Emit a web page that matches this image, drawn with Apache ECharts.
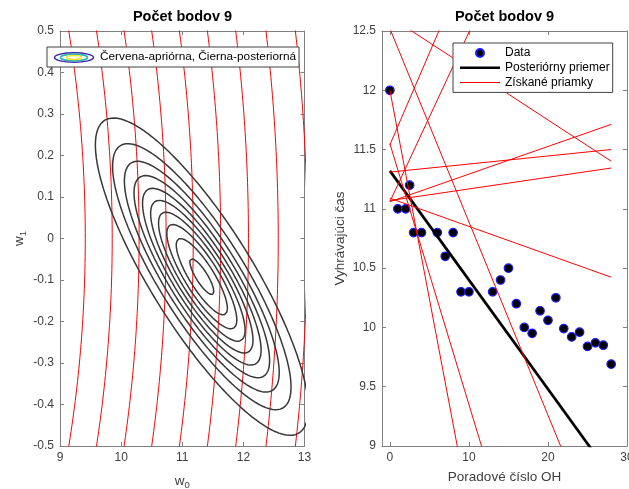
<!DOCTYPE html>
<html>
<head>
<meta charset="utf-8">
<script src="https://cdn.jsdelivr.net/npm/echarts/dist/echarts.min.js"></script>
<style>
  html, body { margin: 0; padding: 0; background: #fff; }
  #main { width: 629px; height: 489px; }
</style>
</head>
<body>
<div id="main"></div>
<script>
// poradove cislo OH a vyhravajuci cas (100 m)
var gameNo = [0, 1, 2, 2.5, 3, 4, 6, 7, 8, 9, 10, 13, 14, 15, 16, 17, 18, 19, 20, 21, 22, 23, 24, 25, 26, 27, 28];
var winTime = [12.0, 11.0, 11.0, 11.2, 10.8, 10.8, 10.8, 10.6, 10.8, 10.3, 10.3, 10.3, 10.4, 10.5, 10.2,
               10.0, 9.95, 10.14, 10.06, 10.25, 9.99, 9.92, 9.96, 9.84, 9.87, 9.85, 9.69];

// apriorne rozdelenie N(mean, diag(var)) a hladiny vrstevnic
var priorMean = [0, 0];
var priorVar = [100, 5];
var priorLevels = [0.00457, 0.00438, 0.00419, 0.00400, 0.00381, 0.00362, 0.00343, 0.00323, 0.00304];

// posteriorne rozdelenie, hladiny ako podiel maxima
var postMean = [11.32, -0.092];
var postSd = [0.806, 0.177];
var postRho = -0.83;
var postLevels = [0.097, 0.194, 0.291, 0.388, 0.485, 0.583, 0.680, 0.777, 0.874, 0.971];

// ziskane priamky t = w0 + w1 * x
var sampleW0 = [12.52, 12.62, 11.54, 11.06, 12.00, 11.55, 11.31, 11.06, 11.07, 11.09];
var sampleW1 = [-0.163, -0.0435, 0.155, 0.143, -0.352, -0.22, 0.0068, 0.0233, 0.0098, -0.0238];
var lineRange = [0, 28];

var titleText = 'Počet bodov 9';
var leftLegendName = 'Červena-apriórna, Čierna-posteriorná';

var FONT = '"Liberation Sans", Arial, Helvetica, sans-serif';
var AXIS_COLOR = '#808080';
var TEXT_COLOR = '#404040';

// legend icons: a horizontal bar inside a 40x8 box
var thickBarIcon = 'path://M0,0L0,0ZM0,2.7H40V5.3H0ZM40,8L40,8Z';
var thinBarIcon = 'path://M0,0L0,0ZM0,3.5H40V4.5H0ZM40,8L40,8Z';

function priorContour(level) {
    var peak = 1 / (2 * Math.PI * Math.sqrt(priorVar[0] * priorVar[1]));
    var q = -2 * Math.log(level / peak);
    var pts = [];
    for (var i = 0; i <= 80; i++) {
        var w1 = -0.6 + 1.2 * i / 80;
        var r = q - Math.pow(w1 - priorMean[1], 2) / priorVar[1];
        pts.push([priorMean[0] + Math.sqrt(priorVar[0] * r), w1]);
    }
    return pts;
}

function posteriorContour(f) {
    var d = Math.sqrt(-2 * Math.log(f));
    var s = Math.sqrt(1 - postRho * postRho);
    var pts = [];
    for (var i = 0; i <= 240; i++) {
        var t = 2 * Math.PI * i / 240;
        pts.push([postMean[0] + d * postSd[0] * Math.cos(t),
                  postMean[1] + d * postSd[1] * (postRho * Math.cos(t) + s * Math.sin(t))]);
    }
    return pts;
}

function textLeft(text, font, cx) {
    var ctx = document.createElement('canvas').getContext('2d');
    ctx.font = font;
    return cx - ctx.measureText(text).width / 2;
}

function axis(extra) {
    var a = {
        type: 'value',
        splitLine: { show: false },
        axisLine: { show: true, onZero: false, lineStyle: { color: AXIS_COLOR, width: 1 } },
        axisTick: { show: true, inside: true, length: 4, lineStyle: { color: AXIS_COLOR } },
        axisLabel: { color: TEXT_COLOR, fontSize: 12, fontFamily: FONT, margin: 6 },
        nameTextStyle: { color: TEXT_COLOR, fontSize: 13.5, fontFamily: FONT }
    };
    for (var k in extra) a[k] = extra[k];
    return a;
}

var series = [];

priorLevels.forEach(function (lv) {
    series.push({
        type: 'line', xAxisIndex: 0, yAxisIndex: 0, data: priorContour(lv),
        symbol: 'none', silent: true, clip: true,
        lineStyle: { color: '#ff0000', width: 1 }
    });
});
postLevels.forEach(function (f) {
    series.push({
        type: 'line', xAxisIndex: 0, yAxisIndex: 0, data: posteriorContour(f),
        symbol: 'none', silent: true, clip: true,
        lineStyle: { color: '#383838', width: 1.5 }
    });
});
series.push({
    name: leftLegendName, type: 'line', xAxisIndex: 0, yAxisIndex: 0, data: [],
    symbol: 'none', lineStyle: { color: 'rgba(0,0,0,0)' }, itemStyle: { color: 'rgba(0,0,0,0)' }
});

series.push({
    name: 'Data', type: 'scatter', xAxisIndex: 2, yAxisIndex: 2,
    data: gameNo.map(function (x, i) { return [x, winTime[i]]; }),
    symbol: 'circle', symbolSize: 8.5,
    itemStyle: { color: '#000', borderColor: '#1a1aff', borderWidth: 1.2, opacity: 1 }
});
series.push({
    name: 'Posteriórny priemer', type: 'line', xAxisIndex: 2, yAxisIndex: 2,
    data: lineRange.map(function (x) { return [x, postMean[0] + postMean[1] * x]; }),
    symbol: 'none', clip: true,
    itemStyle: { color: '#000' },
    lineStyle: { color: '#000', width: 2.7 }
});
sampleW0.forEach(function (w0, i) {
    series.push({
        name: 'Získané priamky', type: 'line', xAxisIndex: 2, yAxisIndex: 2,
        data: lineRange.map(function (x) { return [x, w0 + sampleW1[i] * x]; }),
        symbol: 'none', clip: true,
        itemStyle: { color: '#ff0000' },
        lineStyle: { color: '#ff0000', width: 1 }
    });
});

var titleFont = 'bold 14.5px ' + FONT;

var option = {
    animation: false,
    textStyle: { fontFamily: FONT },
    title: [
        { text: titleText, left: textLeft(titleText, titleFont, 182.5), top: 9, padding: 0,
          textStyle: { fontSize: 14.5, fontWeight: 'bold', color: '#000', fontFamily: FONT } },
        { text: titleText, left: textLeft(titleText, titleFont, 504.5), top: 9, padding: 0,
          textStyle: { fontSize: 14.5, fontWeight: 'bold', color: '#000', fontFamily: FONT } }
    ],
    grid: [
        { left: 60, top: 31, width: 244.5, height: 415, outerBoundsMode: 'none', containLabel: false },
        { left: 382, top: 31, width: 245, height: 415, outerBoundsMode: 'none', containLabel: false }
    ],
    xAxis: [
        axis({ gridIndex: 0, position: 'bottom', min: 9, max: 13, interval: 1,
               name: '{a|w}{b|0}', nameLocation: 'middle', nameGap: 26,
               nameTextStyle: { rich: {
                   a: { fontSize: 13.5, color: TEXT_COLOR, fontFamily: FONT },
                   b: { fontSize: 9.5, color: TEXT_COLOR, fontFamily: FONT, padding: [8, 0, 0, 0] } } } }),
        axis({ gridIndex: 0, position: 'top', min: 9, max: 13, interval: 1, axisLabel: { show: false } }),
        axis({ gridIndex: 1, position: 'bottom', min: -1, max: 30,
               axisLabel: { color: TEXT_COLOR, fontSize: 12, fontFamily: FONT, margin: 6, customValues: [0, 10, 20, 30] },
               axisTick: { show: true, inside: true, length: 4, lineStyle: { color: AXIS_COLOR }, customValues: [0, 10, 20, 30] },
               name: 'Poradové číslo OH', nameLocation: 'middle', nameGap: 24 }),
        axis({ gridIndex: 1, position: 'top', min: -1, max: 30,
               axisLabel: { show: false },
               axisTick: { show: true, inside: true, length: 4, lineStyle: { color: AXIS_COLOR }, customValues: [0, 10, 20, 30] } })
    ],
    yAxis: [
        axis({ gridIndex: 0, position: 'left', min: -0.5, max: 0.5, interval: 0.1,
               name: '{a|w}{b|1}', nameLocation: 'middle', nameGap: 32,
               nameTextStyle: { rich: {
                   a: { fontSize: 13.5, color: TEXT_COLOR, fontFamily: FONT },
                   b: { fontSize: 9.5, color: TEXT_COLOR, fontFamily: FONT, padding: [8, 0, 0, 0] } } } }),
        axis({ gridIndex: 0, position: 'right', min: -0.5, max: 0.5, interval: 0.1, axisLabel: { show: false } }),
        axis({ gridIndex: 1, position: 'left', min: 9, max: 12.5, interval: 0.5,
               name: 'Vyhrávajúci čas', nameLocation: 'middle', nameGap: 35 }),
        axis({ gridIndex: 1, position: 'right', min: 9, max: 12.5, interval: 0.5, axisLabel: { show: false } })
    ],
    legend: [
        { data: [leftLegendName], orient: 'vertical', left: 47, top: 47,
          padding: [4, 3, 4, 7], itemWidth: 40, itemHeight: 10, itemGap: 0,
          selectedMode: false, backgroundColor: '#fff', borderColor: '#404040', borderWidth: 1,
          textStyle: { fontSize: 11.8, color: '#000', fontFamily: FONT } },
        { data: [
              { name: 'Data', icon: 'circle' },
              { name: 'Posteriórny priemer', icon: thickBarIcon, itemStyle: { color: '#000' } },
              { name: 'Získané priamky', icon: thinBarIcon, itemStyle: { color: '#ff0000' } }
          ],
          orient: 'vertical', left: 453, top: 43,
          padding: [4, 3, 4, 7], itemWidth: 40, itemHeight: 8, itemGap: 2.7,
          selectedMode: false, backgroundColor: '#fff', borderColor: '#404040', borderWidth: 1,
          textStyle: { fontSize: 12, color: '#000', fontFamily: FONT } }
    ],
    graphic: [
        { type: 'ellipse', z: 100, shape: { cx: 74, cy: 57.5, rx: 19.5, ry: 4.8 },
          style: { fill: 'none', stroke: '#3e26a8', lineWidth: 1.5 } },
        { type: 'ellipse', z: 100, shape: { cx: 74, cy: 57.5, rx: 13.5, ry: 3.3 },
          style: { fill: 'none', stroke: '#2bb5b8', lineWidth: 1.5 } },
        { type: 'ellipse', z: 100, shape: { cx: 74, cy: 57.5, rx: 7.5, ry: 1.9 },
          style: { fill: 'none', stroke: '#f2e61a', lineWidth: 1.5 } }
    ],
    series: series
};

var chart = echarts.init(document.getElementById('main'));
chart.setOption(option);
</script>
</body>
</html>
